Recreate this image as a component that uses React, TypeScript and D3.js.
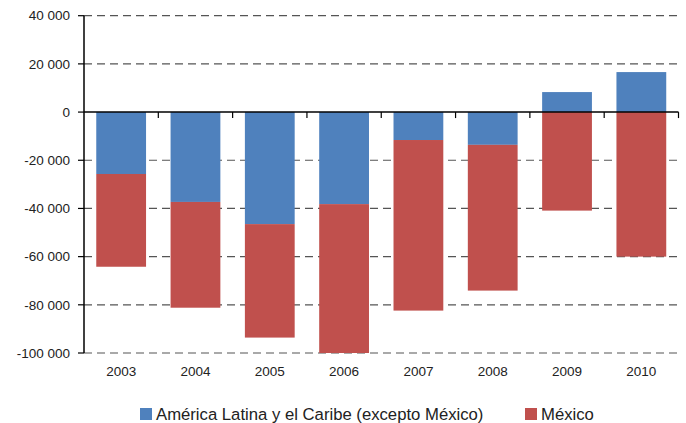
import React from "react";
import * as d3 from "d3";

const years = ["2003", "2004", "2005", "2006", "2007", "2008", "2009", "2010"];
const latam = [-25700, -37300, -46500, -38200, -11600, -13600, 8300, 16600];
const mexico = [-38500, -43900, -47100, -61800, -70800, -60500, -40900, -60000];
const yTicks = [40000, 20000, 0, -20000, -40000, -60000, -80000, -100000];
const seriesNames = ["América Latina y el Caribe (excepto México)", "México"];
const colors = ["#4F81BD", "#C0504D"];

const W = 686, H = 423;
const M = { left: 84, right: 8, top: 16, bottom: 70 };

export default function App() {
  const x = d3.scaleBand().domain(years).range([M.left, 678.5]).paddingInner(0.33).paddingOuter(0.165);
  const xb = d3.scaleBand().domain(years).range([M.left, 678.5]);
  const y = d3.scaleLinear().domain([-100000, 40000]).range([353, 15.7]);
  const rows = years.map((yr, i) => ({ year: yr, a: latam[i], b: mexico[i] }));
  const stack = d3.stack<any>().keys(["a", "b"]).offset(d3.stackOffsetDiverging);
  const series = stack(rows);
  const fmt = (v: number) => {
    const s = d3.format(",")(v).replace(/,/g, " ");
    return s.replace("−", "-");
  };
  const font = "'Liberation Sans', Arial, Helvetica, sans-serif";
  return (
    <svg width={W} height={H} style={{ position: "absolute", left: 0, top: 0 }} fontFamily={font}>
      <rect width={W} height={H} fill="white" />
      {yTicks.filter(t => t !== 0).map(t => (
        <line key={t} x1={M.left} x2={678} y1={y(t)} y2={y(t)} stroke="#555" strokeWidth={1.2} strokeDasharray="8,5" />
      ))}
      {series.map((s, si) => (
        <g key={si} fill={colors[si]}>
          {s.map((d, i) => (
            <rect key={i} x={x(years[i])} width={x.bandwidth()} y={y(Math.max(d[0], d[1]))} height={Math.abs(y(d[0]) - y(d[1]))} />
          ))}
        </g>
      ))}
      {/* y axis */}
      <line x1={M.left} x2={M.left} y1={y(40000)} y2={y(-100000)} stroke="#000" strokeWidth={1.5} />
      {yTicks.map(t => (
        <g key={t}>
          <line x1={M.left - 6} x2={M.left} y1={y(t)} y2={y(t)} stroke="#000" strokeWidth={1.2} />
          <text x={70} y={y(t)} dy="0.35em" textAnchor="end" fontSize={13.5} fill="#222">{fmt(t)}</text>
        </g>
      ))}
      {/* x axis at zero */}
      <line x1={M.left} x2={678.5} y1={y(0)} y2={y(0)} stroke="#000" strokeWidth={1.5} />
      {years.map((yr, i) => (
        <line key={yr} x1={(xb(yr) as number) + xb.bandwidth()} x2={(xb(yr) as number) + xb.bandwidth()} y1={y(0)} y2={y(0) + 6} stroke="#000" strokeWidth={1.2} />
      ))}
      {years.map(yr => (
        <text key={yr} x={(xb(yr) as number) + xb.bandwidth() / 2} y={376} textAnchor="middle" fontSize={13.5} fill="#222">{yr}</text>
      ))}
      {/* legend */}
      <rect x={140} y={408} width={12} height={12} fill={colors[0]} />
      <text x={156} y={420} fontSize={16.7} fill="#222">{seriesNames[0]}</text>
      <rect x={525} y={408} width={12} height={12} fill={colors[1]} />
      <text x={541} y={420} fontSize={16.7} fill="#222">{seriesNames[1]}</text>
    </svg>
  );
}
